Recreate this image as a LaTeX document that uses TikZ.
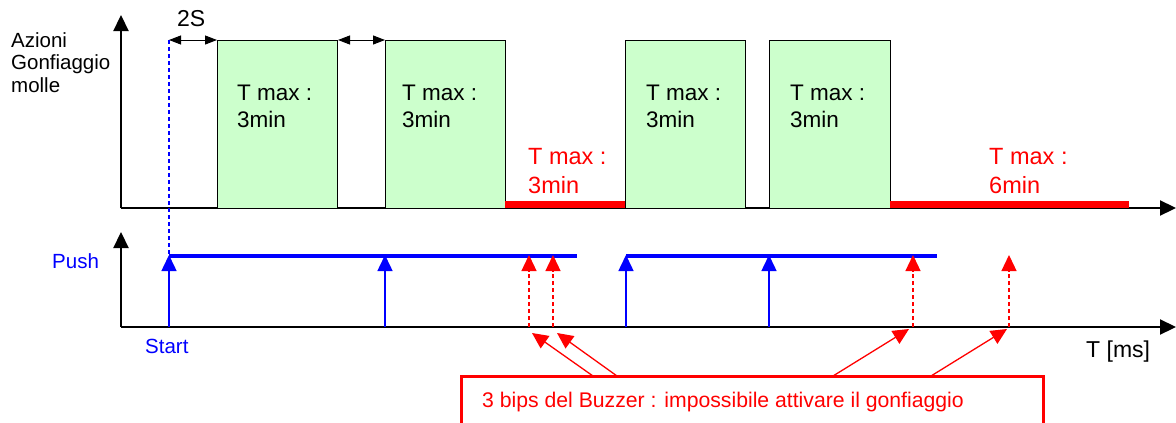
\documentclass[tikz,border=0pt]{standalone}
\usepackage{fontspec}
\setmainfont{Liberation Sans}
\usetikzlibrary{arrows.meta}
\definecolor{boxgreen}{HTML}{CCFFCC}
\definecolor{pblue}{RGB}{0,0,255}
\definecolor{pred}{RGB}{255,0,0}
\begin{document}
\begin{tikzpicture}[x=1pt,y=-1pt,
  axisline/.style={line width=2.2pt,-{Triangle[width=15pt,length=16pt]}},
  actbox/.style={draw=black,line width=1pt,fill=boxgreen,inner sep=0pt},
  lbl/.style={anchor=base west,inner sep=0pt,font=\fontsize{22.5}{26}\selectfont},
  redlbl/.style={anchor=base west,inner sep=0pt,text=pred,font=\fontsize{23.5}{28}\selectfont},
  axlbl/.style={anchor=base west,inner sep=0pt,font=\fontsize{20.5}{24}\selectfont},
  redbar/.style={draw=pred,line width=7pt},
  pushbar/.style={draw=pblue,line width=4pt},
  pusharrow/.style={draw=pblue,line width=1.5pt,-{Triangle[width=15pt,length=16pt]}},
  bipsarrow/.style={draw=pred,line width=1.3pt,dash pattern=on 4pt off 3pt,-{Triangle[width=15pt,length=16pt]}},
  notearrow/.style={draw=pred,line width=1.3pt,-{Triangle[width=15pt,length=16pt]}},
  startdash/.style={draw=pblue,line width=1.4pt,dash pattern=on 4pt off 3pt},
  gaparrow/.style={draw=black,line width=1pt,{Triangle[width=9pt,length=12pt]}-{Triangle[width=9pt,length=12pt]}}
]
\useasboundingbox (0,0) rectangle (1176,423);

% ---- top axes
\coordinate (o1) at (121,208);
\coordinate (y1) at (121,15);
\coordinate (x1) at (1176,208);
\draw[axisline] (o1) -- (y1);
\draw[axisline] (o1) -- (x1);

% ---- bottom axes
\coordinate (o2) at (121,327);
\coordinate (y2) at (121,232);
\coordinate (x2) at (1176,327);
\draw[axisline] (o2) -- (y2);
\draw[axisline] (o2) -- (x2);

% ---- green boxes
\node[actbox,minimum width=120pt,minimum height=168pt,anchor=north west] (b1) at (217,40) {};
\node[actbox,minimum width=120pt,minimum height=168pt,anchor=north west] (b2) at (385,40) {};
\node[actbox,minimum width=120pt,minimum height=168pt,anchor=north west] (b3) at (625,40) {};
\node[actbox,minimum width=121pt,minimum height=168pt,anchor=north west] (b4) at (769,40) {};

\node[lbl] (t1a) at (237,100) {T max :};
\node[lbl] (t1b) at (237,127) {3min};
\node[lbl] (t2a) at (402,100) {T max :};
\node[lbl] (t2b) at (402,127) {3min};
\node[lbl] (t3a) at (646,100) {T max :};
\node[lbl] (t3b) at (646,127) {3min};
\node[lbl] (t4a) at (790,100) {T max :};
\node[lbl] (t4b) at (790,127) {3min};

% ---- red timeouts
\coordinate (r1s) at (505,204.5);
\coordinate (r1e) at (625,204.5);
\coordinate (r2s) at (890,204.5);
\coordinate (r2e) at (1129,204.5);
\draw[redbar] (r1s) -- (r1e);
\draw[redbar] (r2s) -- (r2e);
\node[redlbl] (rt1a) at (528,164) {T max :};
\node[redlbl] (rt1b) at (528,193) {3min};
\node[redlbl] (rt2a) at (989,164) {T max :};
\node[redlbl] (rt2b) at (989,193) {6min};

% ---- left labels
\node[axlbl] (az1) at (11,47) {Azioni};
\node[axlbl] (az2) at (11,69.5) {Gonfiaggio};
\node[axlbl] (az3) at (11,92) {molle};
\node[axlbl,text=pblue] (push) at (52,268) {Push};
\node[axlbl,text=pblue] (start) at (145,353) {Start};
\node[anchor=base west,inner sep=0pt,font=\fontsize{23}{27}\selectfont] (tms) at (1086,357) {T [ms]};

% ---- 2S gaps
\coordinate (g0) at (169,40);
\draw[gaparrow] (g0) -- (b1.north west);
\draw[gaparrow] (b1.north east) -- (b2.north west);
\node[anchor=base west,inner sep=0pt,font=\fontsize{23}{27}\selectfont] (twos) at (177,27) {2S};

% ---- push bars
\coordinate (pb1s) at (169,256);
\coordinate (pb1e) at (577,256);
\coordinate (pb2s) at (626,256);
\coordinate (pb2e) at (937,256);
\draw[startdash] (g0) -- (pb1s);
\draw[pushbar] (pb1s) -- (pb1e);
\draw[pushbar] (pb2s) -- (pb2e);

% ---- push arrows
\foreach \n/\x in {p1/169,p2/385,p3/626,p4/769}{
  \coordinate (\n b) at (\x,327);
  \coordinate (\n t) at (\x,255);
  \draw[pusharrow] (\n b) -- (\n t);
}

% ---- bip arrows
\foreach \n/\x in {q1/529,q2/553,q3/913,q4/1009}{
  \coordinate (\n b) at (\x,327);
  \coordinate (\n t) at (\x,255);
  \draw[bipsarrow] (\n b) -- (\n t);
}

% ---- note box
\coordinate (nbl) at (461.5,430);
\coordinate (ntl) at (461.5,376);
\coordinate (ntr) at (1043,376);
\coordinate (nbr) at (1043,430);
\draw[pred,line width=3pt] (nbl) -- (ntl) -- (ntr) -- (nbr);
\node[anchor=base west,inner sep=0pt,text=pred,font=\fontsize{21.2}{25}\selectfont] (msg) at (482,407) {3 bips del Buzzer : impossibile attivare il gonfiaggio};

\coordinate (n1) at (593,376);
\coordinate (n2) at (617,376);
\coordinate (n3) at (833,376);
\coordinate (n4) at (931,376);
\coordinate (m1) at (532,333);
\coordinate (m2) at (557,333);
\coordinate (m3) at (909,329);
\coordinate (m4) at (1007,329);
\draw[notearrow] (n1) -- (m1);
\draw[notearrow] (n2) -- (m2);
\draw[notearrow] (n3) -- (m3);
\draw[notearrow] (n4) -- (m4);
\end{tikzpicture}
\end{document}
